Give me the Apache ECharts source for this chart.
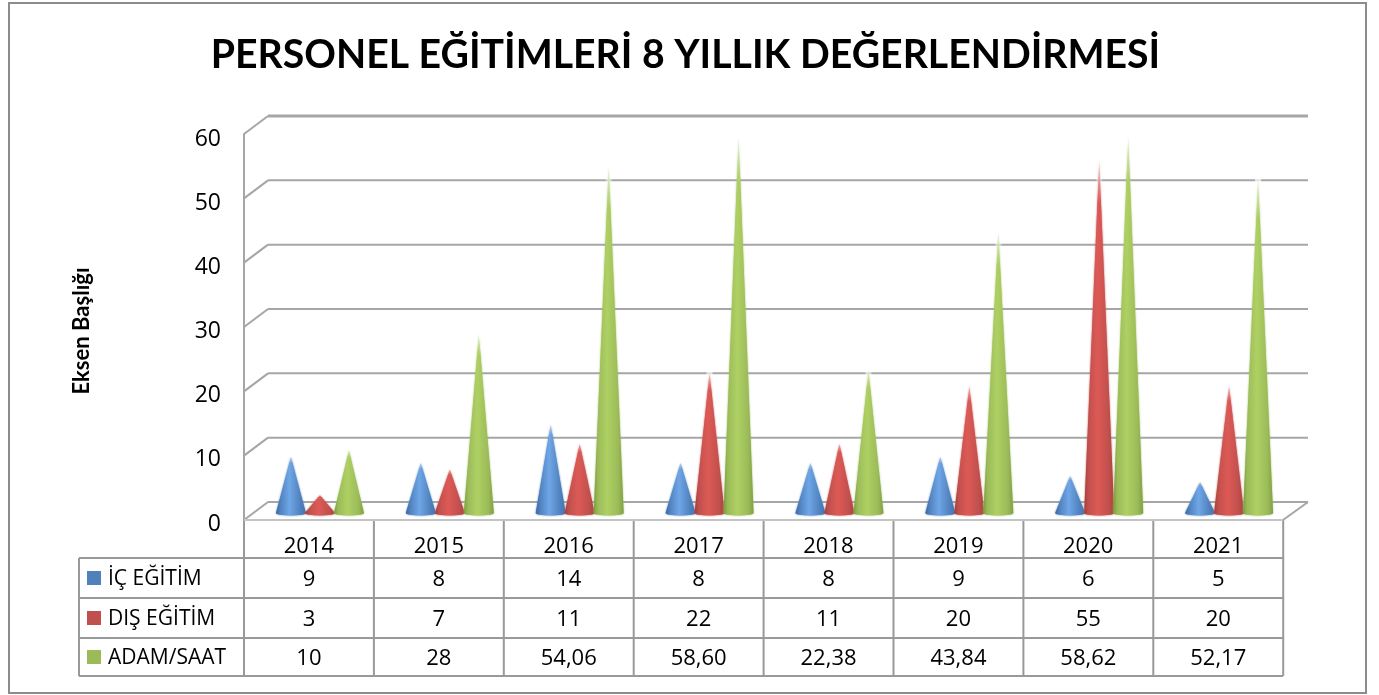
<!DOCTYPE html>
<html>
<head>
    <meta charset="utf-8">
    <title>ECharts</title>
    <script src="https://cdn.jsdelivr.net/npm/echarts@6/dist/echarts.min.js"></script>
    <style>
        html, body { margin: 0; padding: 0; background: #fff; }
    </style>
</head>
<body>
    <div id="main" style="width: 1379px;height:695px;"></div>

    <script type="text/javascript">
        var years = ['2014', '2015', '2016', '2017', '2018', '2019', '2020', '2021'];
        var icEgitim = [9, 8, 14, 8, 8, 9, 6, 5];
        var disEgitim = [3, 7, 11, 22, 11, 20, 55, 20];
        var adamSaat = [10, 28, 54.06, 58.60, 22.38, 43.84, 58.62, 52.17];
        var seriesNames = ['İÇ EĞİTİM', 'DIŞ EĞİTİM', 'ADAM/SAAT'];
        var yTicks = [0, 10, 20, 30, 40, 50, 60];
        var chartTitle = 'PERSONEL EĞİTİMLERİ 8 YILLIK DEĞERLENDİRMESİ';
        var axisTitle = 'Eksen Başlığı';

        var swatches = ['#4f81bd', '#c0504d', '#9bbb59'];
        var shades = [
            ['#3a69a3', '#6fa6e6', '#3f74b3'],
            ['#a23c3a', '#dd5a56', '#a83e3b'],
            ['#7a9a3e', '#aed063', '#7f9f42']
        ];

        var myChart = echarts.init(document.getElementById('main'));

        // 表格位置
        var tableLeft = 79, colLeft = 244, colStep = 129.9, colRight = 1283;
        var rowY = [520, 558, 598, 638, 676];
        var lineColor = '#999999';
        var fontName = '"Open Sans", sans-serif';

        function tableText(v) {
            if (typeof v === 'string') return v;
            return v % 1 === 0 ? String(v) : v.toFixed(2).replace('.', ',');
        }

        function buildTable() {
            var items = [];
            function line(x1, y1, x2, y2, w) {
                items.push({
                    type: 'line', silent: true,
                    shape: { x1: x1, y1: y1, x2: x2, y2: y2 },
                    style: { stroke: lineColor, lineWidth: w || 2 }
                });
            }
            function text(x, y, s, align, size) {
                items.push({
                    type: 'text', silent: true, x: x, y: y,
                    style: { text: s, fill: '#000', font: size + 'px ' + fontName, align: align, verticalAlign: 'middle' }
                });
            }
            // 外框和分隔线
            line(tableLeft, rowY[1], colRight, rowY[1]);
            line(tableLeft, rowY[2], colRight, rowY[2]);
            line(tableLeft, rowY[3], colRight, rowY[3]);
            line(tableLeft, rowY[4], colRight, rowY[4]);
            line(tableLeft, rowY[1], tableLeft, rowY[4]);
            for (var c = 0; c <= years.length; c++) {
                var x = colLeft + c * colStep;
                line(x, rowY[0], x, rowY[4]);
            }
            var rows = [icEgitim, disEgitim, adamSaat];
            rows.forEach(function (row, r) {
                var midY = (rowY[r + 1] + rowY[r + 2]) / 2;
                items.push({
                    type: 'rect', silent: true,
                    shape: { x: 87, y: midY - 7, width: 14, height: 14 },
                    style: { fill: swatches[r] }
                });
                text(108, midY + 1.5, seriesNames[r], 'left', 21);
                row.forEach(function (v, i) {
                    text(colLeft + (i + 0.5) * colStep, midY + 2, tableText(v), 'center', 22);
                });
            });
            // 纵轴标题
            items.push({
                type: 'text', silent: true, x: 82, y: 331, rotation: Math.PI / 2,
                style: { text: axisTitle, fill: '#000', font: 'bold 22px Lato', align: 'center', verticalAlign: 'middle' }
            });
            // 边框
            items.push({
                type: 'rect', silent: true,
                shape: { x: 9, y: 3, width: 1357, height: 690 },
                style: { fill: 'none', stroke: '#8c8c8c', lineWidth: 2 }
            });
            return items;
        }

        // 3D 墙面：每个刻度一条折线
        function renderWall(params, api) {
            var v = api.value(1);
            var p = api.coord([0, v]);
            var left = params.coordSys.x;
            var right = left + params.coordSys.width;
            var dx = 24, dy = 18;
            var wallStroke = '#a6a6a6';
            var children = [
                {
                    type: 'line',
                    shape: { x1: left, y1: p[1], x2: left + dx, y2: p[1] - dy },
                    style: { stroke: wallStroke, lineWidth: 2 }
                },
                {
                    type: 'line',
                    shape: { x1: left + dx, y1: p[1] - dy, x2: right + dx + 1, y2: p[1] - dy },
                    style: { stroke: wallStroke, lineWidth: v === 60 ? 3 : 2 }
                }
            ];
            if (v === 0) {
                children.push({
                    type: 'line',
                    shape: { x1: right + dx + 1, y1: p[1] - dy, x2: right, y2: p[1] },
                    style: { stroke: wallStroke, lineWidth: 2 }
                });
                children.push({
                    type: 'line',
                    shape: { x1: left, y1: p[1], x2: right, y2: p[1] },
                    style: { stroke: '#c4c4c4', lineWidth: 2 }
                });
            }
            return { type: 'group', silent: true, children: children };
        }

        // 圆锥
        function coneSeries(name, data, idx) {
            return {
                name: name,
                type: 'custom',
                xAxisIndex: 1,
                yAxisIndex: 1,
                z: 3,
                data: data,
                renderItem: function (params, api) {
                    var top = api.coord([params.dataIndex, api.value(1)]);
                    var base = api.coord([params.dataIndex, 0]);
                    var cx = base[0] + (idx - 1) * 29;
                    var r = 15;
                    var baseY = base[1] - 1.5;
                    var path = 'M' + cx + ' ' + top[1] +
                        'L' + (cx + r) + ' ' + baseY +
                        'A' + r + ' 2.5 0 0 1 ' + (cx - r) + ' ' + baseY + 'Z';
                    var fadeEnd = top[1] + (base[1] - top[1]) * 0.12;
                    return {
                        type: 'group',
                        children: [
                            {
                                type: 'path',
                                shape: { pathData: path },
                                style: {
                                    shadowBlur: 2,
                                    shadowColor: swatches[idx],
                                    fill: new echarts.graphic.LinearGradient(0, 0, 1, 0, [
                                        { offset: 0, color: shades[idx][0] },
                                        { offset: 0.14, color: swatches[idx] },
                                        { offset: 0.45, color: shades[idx][1] },
                                        { offset: 0.82, color: swatches[idx] },
                                        { offset: 1, color: shades[idx][2] }
                                    ])
                                }
                            },
                            {
                                // 尖端淡出
                                type: 'rect',
                                shape: { x: cx - 3, y: top[1] - 3, width: 6, height: fadeEnd - top[1] + 3 },
                                style: {
                                    fill: new echarts.graphic.LinearGradient(0, 0, 0, 1, [
                                        { offset: 0, color: 'rgba(255,255,255,0.75)' },
                                        { offset: 1, color: 'rgba(255,255,255,0)' }
                                    ])
                                }
                            }
                        ]
                    };
                },
                encode: { x: 0, y: 1 }
            };
        }

        function withIndex(arr) {
            return arr.map(function (v, i) { return [i, v]; });
        }

        var option = {
            animation: false,
            title: {
                text: chartTitle,
                left: 680.5,
                top: 31,
                textAlign: 'center',
                textStyle: { fontFamily: 'Lato', fontWeight: 'bold', fontSize: 39.2, color: '#000' }
            },
            grid: [
                { left: colLeft, top: 134, width: colRight - colLeft, height: 386 },
                { left: 255, top: 128.7, width: colRight - colLeft, height: 385.8 },
                // 刻度文字比轴线略低
                { left: colLeft, top: 139, width: colRight - colLeft, height: 385 }
            ],
            xAxis: [
                {
                    type: 'category', gridIndex: 0, data: years,
                    axisLine: { show: false }, axisTick: { show: false },
                    axisLabel: { margin: 16, color: '#000', fontFamily: 'Open Sans', fontSize: 22, interval: 0 }
                },
                { type: 'category', gridIndex: 1, data: years, show: false },
                { type: 'category', gridIndex: 2, data: years, show: false }
            ],
            yAxis: [
                {
                    type: 'value', gridIndex: 0, min: 0, max: 60, interval: 10,
                    axisLine: { show: true, lineStyle: { color: '#a6a6a6', width: 2 } },
                    axisTick: { show: false },
                    splitLine: { show: false },
                    axisLabel: { show: false }
                },
                {
                    type: 'value', gridIndex: 1, min: 0, max: 60, interval: 10, show: false
                },
                {
                    type: 'value', gridIndex: 2, min: 0, max: 60, interval: 10,
                    axisLine: { show: false },
                    axisTick: { show: false },
                    splitLine: { show: false },
                    axisLabel: { margin: 23, color: '#000', fontFamily: 'Open Sans', fontSize: 23 }
                }
            ],
            series: [
                {
                    type: 'custom',
                    xAxisIndex: 0,
                    yAxisIndex: 0,
                    z: 1,
                    silent: true,
                    data: yTicks.map(function (t) { return [0, t]; }),
                    renderItem: renderWall,
                    encode: { x: 0, y: 1 }
                },
                coneSeries(seriesNames[0], withIndex(icEgitim), 0),
                coneSeries(seriesNames[1], withIndex(disEgitim), 1),
                coneSeries(seriesNames[2], withIndex(adamSaat), 2)
            ],
            graphic: buildTable()
        };

        myChart.setOption(option);
    </script>
</body>
</html>
